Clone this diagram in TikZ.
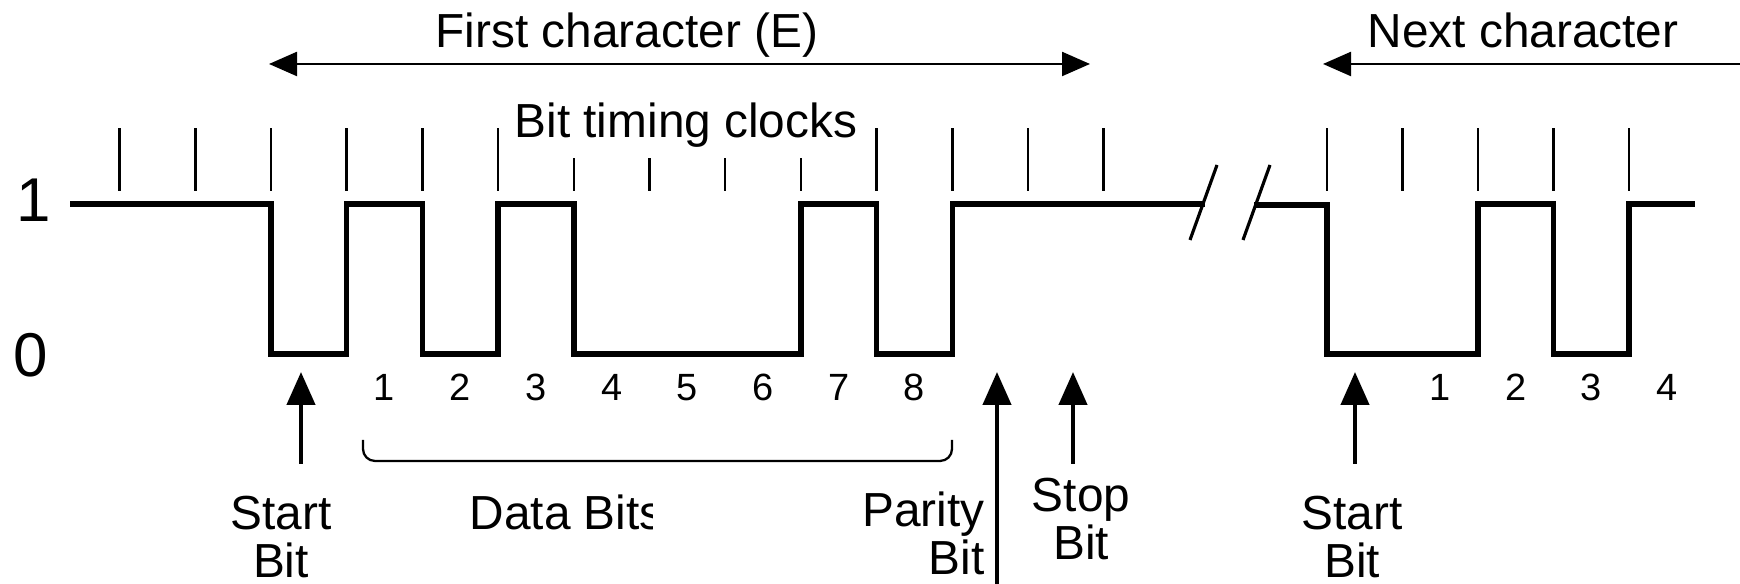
\documentclass[tikz,border=0pt]{standalone}
\usepackage{fontspec}
\setmainfont{Liberation Sans}
\usetikzlibrary{arrows.meta}

\tikzset{
    bighead/.tip={Triangle[length=2.8mm, width=2.4mm]},
    uphead/.tip={Triangle[length=3.3mm, width=2.8mm]}
}

\begin{document}
\begin{tikzpicture}[
        wave/.style={line width=1.55pt, line join=miter},
        clock/.style={line width=0.7pt},
        pointer/.style={line width=1.25pt, -uphead},
        span/.style={line width=0.65pt},
        txt/.style={inner sep=0pt, font=\fontsize{13.6}{13.7}\selectfont},
        num/.style={inner sep=0pt, font=\fontsize{10.8}{11}\selectfont},
        lvl/.style={inner sep=0pt, font=\fontsize{17.6}{18}\selectfont}]

    \useasboundingbox (0, 0) rectangle (17.4, 5.84);

    % logic levels
    \node[lvl] (one) at (0.34, 3.84) {1};
    \node[lvl] (zero) at (0.31, 2.29) {0};

    % headings and the character spans
    \node[txt, anchor=base] (first) at (6.27, 5.36) {First character (E)};
    \node[txt, anchor=base] (next) at (15.23, 5.36) {Next character};
    \node[txt, anchor=base] (clocks) at (6.86, 4.46) {Bit timing clocks};

    \coordinate (f1) at (2.69, 5.20);
    \coordinate (f2) at (10.90, 5.20);
    \coordinate (n1) at (13.23, 5.20);
    \coordinate (n2) at (17.40, 5.20);
    \draw[span, bighead-bighead] (f1) -- (f2);
    \draw[span, bighead-] (n1) -- (n2);

    % clock ticks (short ones under the text)
    \foreach \i in {-2,...,3,8,9,10,11}
        \draw[clock] ({2.71+0.757*\i}, 3.93) -- ++(0, 0.63);
    \foreach \i in {4,...,7}
        \draw[clock] ({2.71+0.757*\i}, 3.93) -- ++(0, 0.33);
    \foreach \i in {0,...,4}
        \draw[clock] ({13.27+0.755*\i}, 3.93) -- ++(0, 0.63);

    % first character: start, 1 0 1 0 0 0 1 0, parity, stop
    \draw[wave]
    (0.70, 3.80) -- (2.71, 3.80) -- (2.71, 2.30) -- (3.467, 2.30)
    -- (3.467, 3.80) -- (4.224, 3.80) -- (4.224, 2.30) -- (4.981, 2.30)
    -- (4.981, 3.80) -- (5.738, 3.80) -- (5.738, 2.30) -- (8.009, 2.30)
    -- (8.009, 3.80) -- (8.766, 3.80) -- (8.766, 2.30) -- (9.523, 2.30)
    -- (9.523, 3.80) -- (12.05, 3.80);

    % break in the line
    \draw[line width=0.9pt]
    (11.90, 3.44) -- (12.17, 4.19)
    (12.43, 3.44) -- (12.70, 4.19);

    % next character
    \draw[wave]
    (12.54, 3.79) -- (13.27, 3.79) -- (13.27, 2.30) -- (14.78, 2.30)
    -- (14.78, 3.80) -- (15.535, 3.80) -- (15.535, 2.30) -- (16.29, 2.30)
    -- (16.29, 3.80) -- (16.95, 3.80);

    % bit numbers
    \foreach \n in {1,...,8}
        \node[num, anchor=base] (d\n) at ({2.71+0.757*(\n+0.5)}, 1.83) {\n};
    \foreach \n in {1,...,4}
        \node[num, anchor=base] (e\n) at ({13.27+0.755*(\n+0.5)}, 1.83) {\n};

    % bracket over the data bits
    \draw[span, rounded corners=1.2mm]
    (3.63, 1.44) -- (3.63, 1.23) -- (9.52, 1.23) -- (9.52, 1.44);

    % labels below (base is the last line)
    \node[txt, align=center, anchor=base] (startA) at (2.81, 0.06) {Start\\Bit};
    \begin{scope}
        \clip (4.5, 0.3) rectangle (6.52, 1.0);
        \node[txt, anchor=base west] (data) at (4.69, 0.54) {Data Bits};
    \end{scope}
    \node[txt, align=right, anchor=base east] (parity) at (9.85, 0.09) {Parity\\Bit};
    \node[txt, align=center, anchor=base] (stop) at (10.81, 0.24) {Stop\\Bit};
    \node[txt, align=center, anchor=base] (startB) at (13.52, 0.06) {Start\\Bit};

    % pointers
    \coordinate (sa0) at (3.01, 1.20);
    \coordinate (sa1) at (3.01, 2.12);
    \coordinate (pa0) at (9.97, 0);
    \coordinate (pa1) at (9.97, 2.12);
    \coordinate (st0) at (10.73, 1.20);
    \coordinate (st1) at (10.73, 2.12);
    \coordinate (sb0) at (13.55, 1.20);
    \coordinate (sb1) at (13.55, 2.12);

    \draw[pointer]
    (sa0) -- (sa1);
    \draw[pointer]
    (pa0) -- (pa1);
    \draw[pointer]
    (st0) -- (st1);
    \draw[pointer]
    (sb0) -- (sb1);
\end{tikzpicture}
\end{document}
